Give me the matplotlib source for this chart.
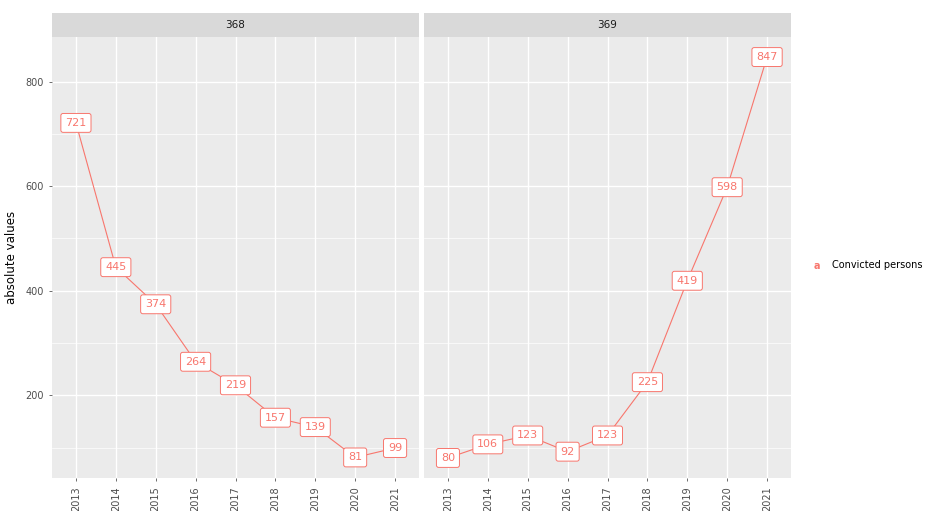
import matplotlib.pyplot as plt
from matplotlib.ticker import MultipleLocator

# data
years = ['2013', '2014', '2015', '2016', '2017', '2018', '2019', '2020', '2021']
panel_titles = ['368', '369']
convicted_368 = [721, 445, 374, 264, 219, 157, 139, 81, 99]
convicted_369 = [80, 106, 123, 92, 123, 225, 419, 598, 847]
series_name = 'Convicted persons'
y_label = 'absolute values'

salmon = '#F8766D'
panel_bg = '#EBEBEB'
strip_bg = '#D9D9D9'

fig = plt.figure(figsize=(9.33, 5.11), dpi=100)
fig.patch.set_facecolor('white')

W, H = 933.0, 511.0
panel_left = [52, 424]
panel_w = 367
panel_top, panel_bot = 37, 478
strip_h = 24

all_vals = convicted_368 + convicted_369
span = max(all_vals) - min(all_vals)
ylim = (min(all_vals) - 0.05 * span, max(all_vals) + 0.05 * span)

for i, (title, vals) in enumerate(zip(panel_titles, [convicted_368, convicted_369])):
    x0 = panel_left[i]
    ax = fig.add_axes([x0 / W, (H - panel_bot) / H, panel_w / W, (panel_bot - panel_top) / H])
    ax.set_facecolor(panel_bg)
    for s in ax.spines.values():
        s.set_visible(False)

    xs = list(range(len(years)))
    ax.plot(xs, vals, color=salmon, lw=0.8, zorder=3)
    for x, v in zip(xs, vals):
        ax.text(x, v, str(v), ha='center', va='center', color=salmon, fontsize=8,
                zorder=4,
                bbox=dict(boxstyle='round,pad=0.4,rounding_size=0.2', fc='white',
                          ec=salmon, lw=0.7))

    ax.set_xlim(-0.6, len(years) - 1 + 0.6)
    ax.set_ylim(*ylim)
    ax.set_xticks(xs)
    ax.set_xticklabels(years, rotation=90, fontsize=7, color='#4D4D4D')
    ax.yaxis.set_major_locator(MultipleLocator(200))
    ax.yaxis.set_minor_locator(MultipleLocator(100))
    ax.grid(which='major', color='white', lw=1.0)
    ax.grid(which='minor', axis='y', color='white', lw=0.5)
    ax.set_axisbelow(True)
    ax.tick_params(axis='both', which='major', length=2.5, width=0.5, color='#333333')
    ax.tick_params(axis='y', which='minor', length=0)
    ax.tick_params(axis='y', labelsize=7, labelcolor='#4D4D4D')
    if i == 0:
        ax.set_ylabel(y_label, fontsize=8.5, color='black', labelpad=5)
    else:
        ax.tick_params(axis='y', labelleft=False, length=0)

    # facet strip
    sax = fig.add_axes([x0 / W, (H - panel_top) / H, panel_w / W, strip_h / H])
    sax.set_facecolor(strip_bg)
    sax.set_xticks([])
    sax.set_yticks([])
    for s in sax.spines.values():
        s.set_visible(False)
    sax.text(0.5, 0.5, title, ha='center', va='center', fontsize=7.5, color='#1A1A1A',
             transform=sax.transAxes)

# legend (geom_label style key)
fig.text(817 / W, 1 - 266 / H, 'a', ha='center', va='center', color=salmon,
         fontsize=7, fontweight='bold')
fig.text(832 / W, 1 - 265 / H, series_name, ha='left', va='center', color='black',
         fontsize=7)

fig.savefig('out.png', dpi=100)
